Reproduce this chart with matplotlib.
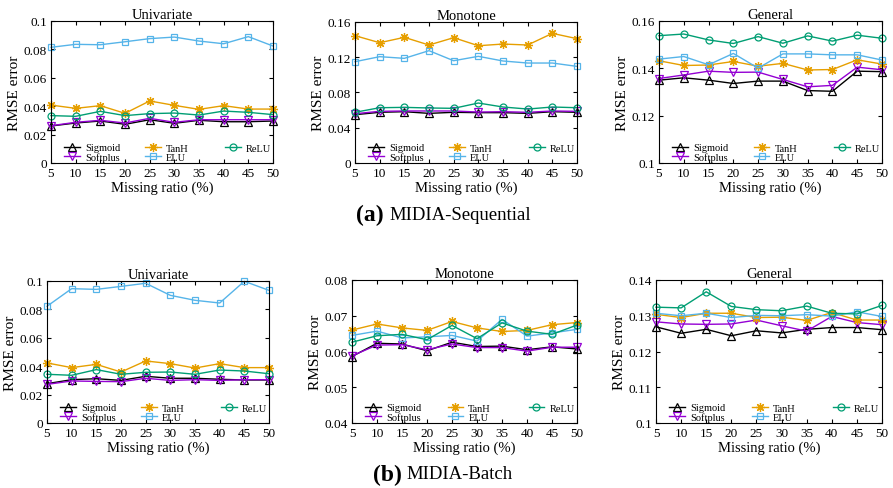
import numpy as np
import matplotlib
matplotlib.use("Agg")
import matplotlib.pyplot as plt
from matplotlib.lines import Line2D

plt.rcParams['font.family'] = ['Liberation Serif', 'DejaVu Serif']

ratios = [5, 10, 15, 20, 25, 30, 35, 40, 45, 50]
methods = ['Sigmoid', 'Softplus', 'TanH', 'ELU', 'ReLU']

# (a) MIDIA-Sequential
seq_univariate = {
    'Sigmoid':  [0.0260, 0.0281, 0.0295, 0.0272, 0.0304, 0.0279, 0.0300, 0.0290, 0.0290, 0.0295],
    'Softplus': [0.0262, 0.0286, 0.0300, 0.0281, 0.0314, 0.0286, 0.0304, 0.0304, 0.0304, 0.0304],
    'TanH':     [0.0407, 0.0384, 0.0403, 0.0349, 0.0436, 0.0405, 0.0377, 0.0403, 0.0379, 0.0379],
    'ELU':      [0.0813, 0.0834, 0.0831, 0.0852, 0.0874, 0.0885, 0.0857, 0.0838, 0.0888, 0.0822],
    'ReLU':     [0.0333, 0.0328, 0.0363, 0.0333, 0.0347, 0.0351, 0.0337, 0.0365, 0.0356, 0.0340],
}
seq_monotone = {
    'Sigmoid':  [0.0547, 0.0574, 0.0581, 0.0562, 0.0574, 0.0570, 0.0570, 0.0562, 0.0581, 0.0574],
    'Softplus': [0.0558, 0.0585, 0.0589, 0.0589, 0.0589, 0.0577, 0.0581, 0.0574, 0.0589, 0.0585],
    'TanH':     [0.1442, 0.1362, 0.1423, 0.1336, 0.1419, 0.1328, 0.1347, 0.1336, 0.1468, 0.1408],
    'ELU':      [0.1147, 0.1204, 0.1185, 0.1272, 0.1158, 0.1208, 0.1155, 0.1132, 0.1132, 0.1094],
    'ReLU':     [0.0574, 0.0626, 0.0630, 0.0623, 0.0619, 0.0679, 0.0634, 0.0611, 0.0634, 0.0626],
}
seq_general = {
    'Sigmoid':  [0.1350, 0.1360, 0.1350, 0.1336, 0.1346, 0.1346, 0.1306, 0.1303, 0.1388, 0.1386],
    'Softplus': [0.1357, 0.1372, 0.1388, 0.1383, 0.1384, 0.1353, 0.1322, 0.1328, 0.1405, 0.1394],
    'TanH':     [0.1432, 0.1412, 0.1414, 0.1429, 0.1409, 0.1421, 0.1393, 0.1395, 0.1436, 0.1418],
    'ELU':      [0.1439, 0.1450, 0.1415, 0.1463, 0.1401, 0.1461, 0.1461, 0.1457, 0.1457, 0.1435],
    'ReLU':     [0.1538, 0.1545, 0.1520, 0.1505, 0.1534, 0.1506, 0.1537, 0.1515, 0.1540, 0.1527],
}

# (b) MIDIA-Batch
bat_univariate = {
    'Sigmoid':  [0.0277, 0.0305, 0.0312, 0.0300, 0.0329, 0.0315, 0.0315, 0.0308, 0.0303, 0.0303],
    'Softplus': [0.0272, 0.0296, 0.0293, 0.0291, 0.0315, 0.0300, 0.0305, 0.0300, 0.0305, 0.0305],
    'TanH':     [0.0423, 0.0390, 0.0413, 0.0359, 0.0437, 0.0418, 0.0387, 0.0418, 0.0390, 0.0390],
    'ELU':      [0.0822, 0.0946, 0.0941, 0.0962, 0.0984, 0.0899, 0.0864, 0.0845, 0.0998, 0.0934],
    'ReLU':     [0.0343, 0.0336, 0.0376, 0.0343, 0.0357, 0.0359, 0.0343, 0.0373, 0.0366, 0.0347],
}
bat_monotone = {
    'Sigmoid':  [0.0586, 0.0623, 0.0621, 0.0602, 0.0626, 0.0614, 0.0615, 0.0605, 0.0613, 0.0607],
    'Softplus': [0.0588, 0.0618, 0.0619, 0.0605, 0.0621, 0.0611, 0.0611, 0.0601, 0.0612, 0.0612],
    'TanH':     [0.0660, 0.0677, 0.0666, 0.0659, 0.0684, 0.0666, 0.0656, 0.0659, 0.0675, 0.0681],
    'ELU':      [0.0645, 0.0657, 0.0638, 0.0641, 0.0645, 0.0629, 0.0690, 0.0643, 0.0652, 0.0662],
    'ReLU':     [0.0626, 0.0644, 0.0648, 0.0633, 0.0673, 0.0636, 0.0680, 0.0657, 0.0648, 0.0674],
}
bat_general = {
    'Sigmoid':  [0.1269, 0.1251, 0.1262, 0.1244, 0.1258, 0.1252, 0.1262, 0.1267, 0.1267, 0.1261],
    'Softplus': [0.1283, 0.1277, 0.1276, 0.1277, 0.1288, 0.1272, 0.1257, 0.1298, 0.1281, 0.1275],
    'TanH':     [0.1304, 0.1295, 0.1307, 0.1307, 0.1295, 0.1296, 0.1287, 0.1309, 0.1288, 0.1288],
    'ELU':      [0.1307, 0.1300, 0.1307, 0.1295, 0.1301, 0.1300, 0.1303, 0.1299, 0.1311, 0.1298],
    'ReLU':     [0.1324, 0.1322, 0.1367, 0.1326, 0.1317, 0.1314, 0.1327, 0.1307, 0.1305, 0.1329],
}

colors = {'Sigmoid': '#000000', 'Softplus': '#9400d3', 'TanH': '#e69f00',
          'ELU': '#56b4e9', 'ReLU': '#009e73'}
markers = {'Sigmoid': '^', 'Softplus': 'v', 'TanH': (8, 2, 0), 'ELU': 's', 'ReLU': 'o'}
msizes = {'Sigmoid': 5.2, 'Softplus': 5.2, 'TanH': 6.5, 'ELU': 4.6, 'ReLU': 5.0}

# legend columns as in gnuplot: equal-spaced blocks
legend_cols = [(['Sigmoid', 'Softplus'], 0.055), (['TanH', 'ELU'], 0.42), (['ReLU', None], 0.78)]

W, H = 893, 489
fig = plt.figure(figsize=(W / 100, H / 100), dpi=100)


def px_axes(left, right, top, bottom):
    return fig.add_axes([left / W, (H - bottom) / H, (right - left) / W, (bottom - top) / H])


def draw(ax, data, title, ylim, yticks, yticklabels):
    lines = {}
    for m in methods:
        lines[m], = ax.plot(ratios, data[m], color=colors[m], marker=markers[m],
                            markersize=msizes[m], markerfacecolor='none',
                            markeredgewidth=0.9, linewidth=1.0, label=m, clip_on=False)
    lines[None] = Line2D([], [], linestyle='none')
    ax.set_xlim(5, 50)
    ax.set_ylim(*ylim)
    ax.set_xticks(ratios)
    ax.set_yticks(yticks)
    ax.set_yticklabels(yticklabels)
    ax.tick_params(direction='in', top=True, right=True, labelsize=9.5, length=3, pad=3)
    ax.set_title(title, fontsize=10.5, pad=2)
    ax.set_xlabel('Missing ratio (%)', fontsize=10.5, labelpad=1)
    ax.set_ylabel('RMSE error', fontsize=11, labelpad=2)
    for s in ax.spines.values():
        s.set_linewidth(0.8)
    for names, xpos in legend_cols:
        leg = ax.legend([lines[n] for n in names], [n or ' ' for n in names], loc='lower left',
                        bbox_to_anchor=(xpos, 0.0), frameon=False, fontsize=7.5,
                        handlelength=1.5, handletextpad=0.5, labelspacing=0.0,
                        borderpad=0.0, borderaxespad=0.1)
        ax.add_artist(leg)
    ax.legend_ = None  # avoid drawing the last one twice


a1 = px_axes(51, 273, 21.7, 164)
a2 = px_axes(355, 577, 22.7, 164)
a3 = px_axes(659, 882, 22, 164)
b1 = px_axes(47, 269, 282, 424)
b2 = px_axes(352, 577, 281, 424)
b3 = px_axes(656, 882, 281, 424)

draw(a1, seq_univariate, 'Univariate', (0, 0.1), [0, 0.02, 0.04, 0.06, 0.08, 0.1],
     ['0', '0.02', '0.04', '0.06', '0.08', '0.1'])
draw(a2, seq_monotone, 'Monotone', (0, 0.16), [0, 0.04, 0.08, 0.12, 0.16],
     ['0', '0.04', '0.08', '0.12', '0.16'])
draw(a3, seq_general, 'General', (0.1, 0.16), [0.1, 0.12, 0.14, 0.16],
     ['0.1', '0.12', '0.14', '0.16'])
draw(b1, bat_univariate, 'Univariate', (0, 0.1), [0, 0.02, 0.04, 0.06, 0.08, 0.1],
     ['0', '0.02', '0.04', '0.06', '0.08', '0.1'])
draw(b2, bat_monotone, 'Monotone', (0.04, 0.08), [0.04, 0.05, 0.06, 0.07, 0.08],
     ['0.04', '0.05', '0.06', '0.07', '0.08'])
draw(b3, bat_general, 'General', (0.1, 0.14), [0.1, 0.11, 0.12, 0.13, 0.14],
     ['0.1', '0.11', '0.12', '0.13', '0.14'])

# sub-captions
fig.text(384 / W, 1 - 215 / H, '(a)', fontsize=17, fontweight='bold', ha='right', va='center')
fig.text(389 / W, 1 - 215 / H, 'MIDIA-Sequential', fontsize=13.5, ha='left', va='center')
fig.text(402 / W, 1 - 475 / H, '(b)', fontsize=17, fontweight='bold', ha='right', va='center')
fig.text(406 / W, 1 - 475 / H, 'MIDIA-Batch', fontsize=13.5, ha='left', va='center')

fig.savefig('out.png', dpi=100)
